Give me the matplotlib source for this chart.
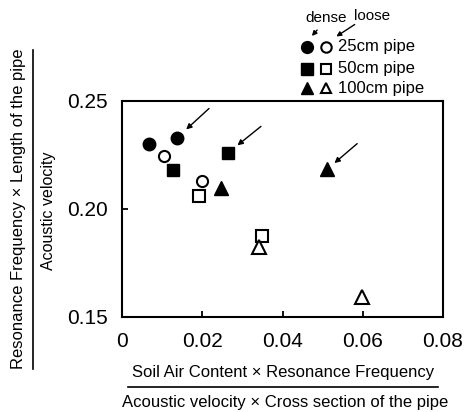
import matplotlib
matplotlib.use("Agg")
import matplotlib.pyplot as plt
from matplotlib.lines import Line2D

plt.rcParams["font.family"] = ["Liberation Sans", "DejaVu Sans"]

# data
dense_25_x = [0.0068, 0.0138]
dense_25_y = [0.2303, 0.2331]
loose_25_x = [0.0104, 0.0199]
loose_25_y = [0.2244, 0.2128]
dense_50_x = [0.0127, 0.0265]
dense_50_y = [0.2182, 0.2261]
loose_50_x = [0.0191, 0.0350]
loose_50_y = [0.2058, 0.1877]
dense_100_x = [0.0247, 0.0512]
dense_100_y = [0.2099, 0.2185]
loose_100_x = [0.0342, 0.0597]
loose_100_y = [0.1822, 0.1593]

x_ticks = [0, 0.02, 0.04, 0.06, 0.08]
x_ticklabels = ["0", "0.02", "0.04", "0.06", "0.08"]
y_ticks = [0.15, 0.20, 0.25]
y_ticklabels = ["0.15", "0.20", "0.25"]

# points marked with an arrow (x, y, tail offset in pt, shrink in pt)
arrow_pts = [
    (dense_25_x[1], dense_25_y[1], (22.8, 20.9), 8.6),
    (dense_50_x[1], dense_50_y[1], (23.5, 18.9), 8.4),
    (dense_100_x[1], dense_100_y[1], (21.4, 18.3), 6.6),
]

legend_rows = ["25cm pipe", "50cm pipe", "100cm pipe"]
legend_markers = ["o", "s", "^"]

W, H = 465, 412
fig = plt.figure(figsize=(W / 100, H / 100), dpi=100)
ax = fig.add_axes([122 / W, 1 - 317 / H, (443 - 122) / W, (317 - 101) / H])

ms = 9
filled = dict(linestyle="none", color="black", markersize=ms, clip_on=False)
hollow = dict(linestyle="none", markerfacecolor="white", markeredgecolor="black",
              markersize=8, markeredgewidth=1.5, clip_on=False)

ax.plot(dense_25_x, dense_25_y, "o", **filled)
ax.plot(loose_25_x, loose_25_y, "o", **hollow)
ax.plot(dense_50_x, dense_50_y, "s", **dict(filled, markersize=8.5))
ax.plot(loose_50_x, loose_50_y, "s", **hollow)
ax.plot(dense_100_x, dense_100_y, "^", **dict(filled, markersize=10))
ax.plot(loose_100_x, loose_100_y, "^", **dict(hollow, markersize=9.5))

for px, py, off, shr in arrow_pts:
    ax.annotate("", xy=(px, py), xytext=off, textcoords="offset points",
                arrowprops=dict(arrowstyle="-|>", color="black", lw=1.0,
                                mutation_scale=8, shrinkA=0, shrinkB=shr))

ax.set_xlim(0, 0.08)
ax.set_ylim(0.15, 0.25)
ax.set_xticks(x_ticks)
ax.set_xticklabels(x_ticklabels)
ax.set_yticks(y_ticks)
ax.set_yticklabels(y_ticklabels)
ax.tick_params(direction="in", length=4, width=1.3, labelsize=15, top=False, right=False)
ax.tick_params(axis="x", pad=11)
ax.tick_params(axis="y", pad=10)
for sp in ax.spines.values():
    sp.set_linewidth(1.5)

# fraction style axis labels
fig.text(283 / W, 1 - 373 / H, "Soil Air Content \u00d7 Resonance Frequency",
         ha="center", va="center", fontsize=12)
fig.add_artist(Line2D([128 / W, 438 / W], [1 - 387 / H, 1 - 387 / H], color="black", lw=1.2))
fig.text(285 / W, 1 - 402 / H, "Acoustic velocity \u00d7 Cross section of the pipe",
         ha="center", va="center", fontsize=12)

fig.text(19 / W, 1 - 209 / H, "Resonance Frequency \u00d7 Length of the pipe",
         ha="center", va="center", rotation=90, fontsize=12)
fig.add_artist(Line2D([33 / W, 33 / W], [1 - 50 / H, 1 - 369 / H], color="black", lw=1.2))
fig.text(48 / W, 1 - 211 / H, "Acoustic velocity",
         ha="center", va="center", rotation=90, fontsize=11.5)

# hand-made legend
row_y = [47, 69, 88]
for lbl, mk, ry in zip(legend_rows, legend_markers, row_y):
    fy = 1 - ry / H
    fig.add_artist(Line2D([307 / W], [fy], marker=mk, color="black", linestyle="none",
                          markersize=8.5))
    fig.add_artist(Line2D([326 / W], [fy], marker=mk, linestyle="none", markerfacecolor="white",
                          markeredgecolor="black", markersize=7.5, markeredgewidth=1.5))
    fig.text(338 / W, fy, lbl, ha="left", va="center", fontsize=12)

fig.text(326 / W, 1 - 18 / H, "dense", ha="center", va="center", fontsize=11)
fig.text(372 / W, 1 - 16 / H, "loose", ha="center", va="center", fontsize=11)
fig.add_artist(matplotlib.patches.FancyArrowPatch(
    (319 / W, 1 - 28 / H), (310 / W, 1 - 38 / H), transform=fig.transFigure,
    arrowstyle="-|>", mutation_scale=7, color="black", lw=1.0))
fig.add_artist(matplotlib.patches.FancyArrowPatch(
    (357 / W, 1 - 23 / H), (334 / W, 1 - 38 / H), transform=fig.transFigure,
    arrowstyle="-|>", mutation_scale=7, color="black", lw=1.0))

fig.savefig("out.png", dpi=100)
